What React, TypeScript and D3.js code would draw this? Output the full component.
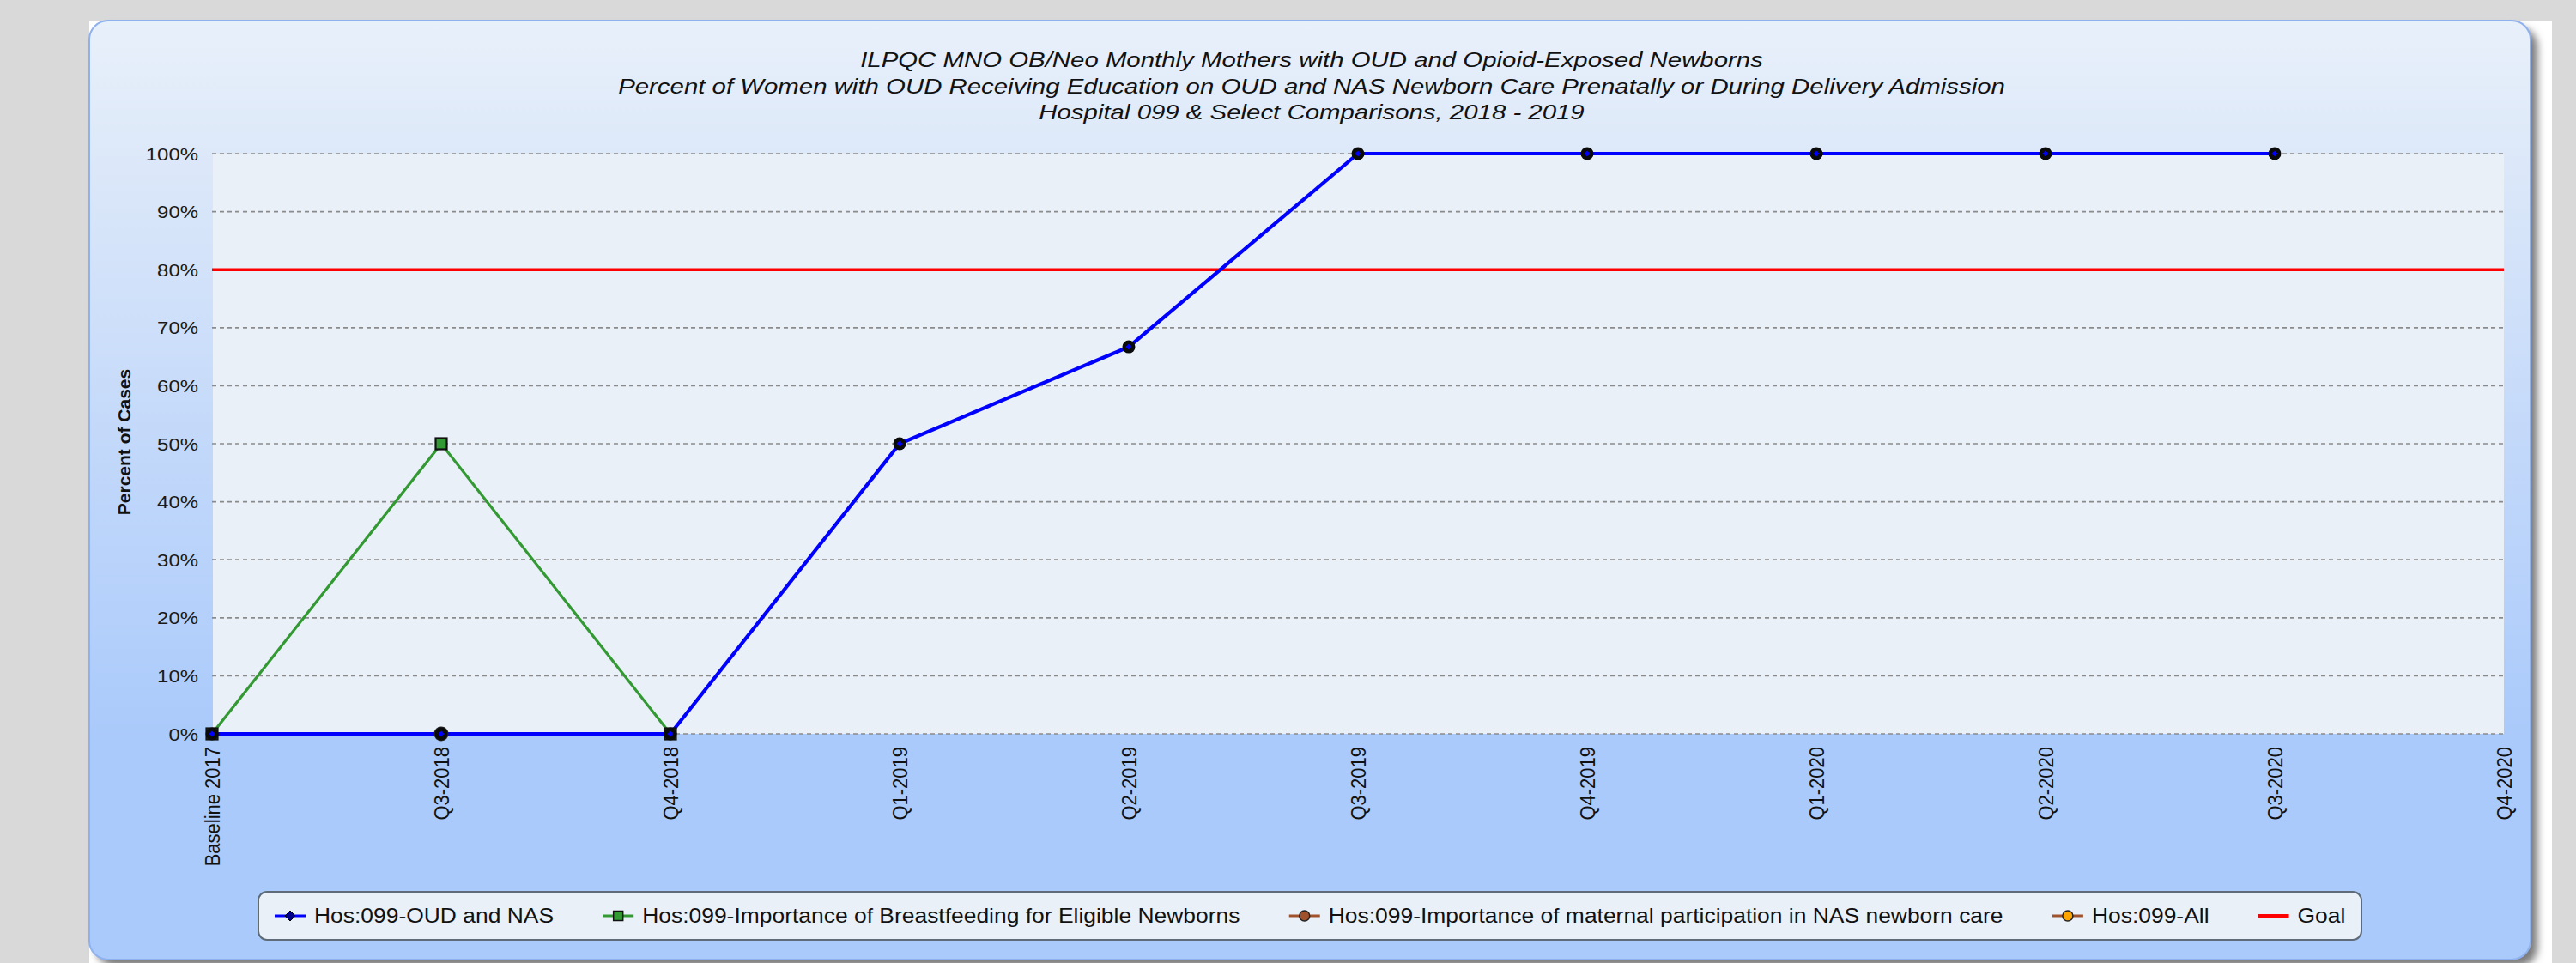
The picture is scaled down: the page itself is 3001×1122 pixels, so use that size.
import React from "react";
import * as d3 from "d3";

const categories = [
  "Baseline 2017", "Q3-2018", "Q4-2018", "Q1-2019", "Q2-2019", "Q3-2019",
  "Q4-2019", "Q1-2020", "Q2-2020", "Q3-2020", "Q4-2020",
];
const oudNas: (number | null)[] = [0, 0, 0, 50, 66.7, 100, 100, 100, 100, 100, null];
const breastfeeding: (number | null)[] = [0, 50, 0, null, null, null, null, null, null, null, null];
const maternal: (number | null)[] = [null, 0, null, null, null, null, null, null, null, null, null];
const allCare: (number | null)[] = [null, 0, null, null, null, null, null, null, null, null, null];
const goalValue = 80;
const yTicks = [0, 10, 20, 30, 40, 50, 60, 70, 80, 90, 100];
const titleLines = [
  "ILPQC MNO OB/Neo Monthly Mothers with OUD and Opioid-Exposed Newborns",
  "Percent of Women with OUD Receiving Education on OUD and NAS Newborn Care Prenatally or During Delivery Admission",
  "Hospital 099 & Select Comparisons, 2018 - 2019",
];
const legendLabels = [
  "Hos:099-OUD and NAS",
  "Hos:099-Importance of Breastfeeding for Eligible Newborns",
  "Hos:099-Importance of maternal participation in NAS newborn care",
  "Hos:099-All",
  "Goal",
];

const FONT = '"Liberation Sans", Arial, sans-serif';
const W = 3001;
const H = 1122;

function SText(props: any) {
  const { x, y, sx = 1, rot = 0, children, ...rest } = props;
  const t = `translate(${x},${y}) scale(${sx},1)` + (rot ? ` rotate(${rot})` : "");
  return (
    <text transform={t} fontFamily={FONT} {...rest}>
      {children}
    </text>
  );
}

function measure(text: string, font: string) {
  const c = document.createElement("canvas");
  const ctx = c.getContext("2d")!;
  ctx.font = font;
  return ctx.measureText(text).width;
}

function diamond(cx: number, cy: number, r: number) {
  return `M${cx},${cy - r}L${cx + r},${cy}L${cx},${cy + r}L${cx - r},${cy}Z`;
}

export default function App() {
  const x = d3.scalePoint<string>().domain(categories).range([247, 2917]);
  const y = d3.scaleLinear().domain([0, 100]).range([855, 179]);

  const line = d3
    .line<number | null>()
    .defined((d) => d != null)
    .x((_, i) => x(categories[i])!)
    .y((d) => y(d as number));

  const pts = (arr: (number | null)[]) =>
    arr
      .map((v, i) => ({ v, c: categories[i] }))
      .filter((d) => d.v != null) as { v: number; c: string }[];

  // legend layout
  const legFs = 23.5;
  const legSx = 1.125;
  const legFont = `${legFs}px "Liberation Sans", Arial, sans-serif`;
  let cursor = 320;
  const legendItems = legendLabels.map((lab) => {
    const sx0 = cursor;
    const tx = sx0 + 46;
    const w = measure(lab, legFont) * legSx;
    cursor = tx + w + 57;
    return { lab, sx0, tx };
  });
  const legY = 1067;

  const [x0, x1] = x.range();

  return (
    <div style={{ position: "absolute", left: 0, top: 0 }}>
      <svg width={W} height={H} style={{ display: "block" }}>
        <defs>
          <linearGradient id="frameGrad" gradientUnits="userSpaceOnUse" x1="0" y1="24" x2="0" y2="860">
            <stop offset="0" stopColor="#e8f0fa" />
            <stop offset="0.2" stopColor="#dce8f9" />
            <stop offset="0.6" stopColor="#c2d8fa" />
            <stop offset="1" stopColor="#aacafb" />
          </linearGradient>
          <filter id="blur" x="-5%" y="-5%" width="110%" height="110%">
            <feGaussianBlur stdDeviation="5" />
          </filter>
        </defs>
        <rect width={W} height={H} fill="#d9d9d9" />
        <rect x={104} y={24} width={2869} height={1100} fill="#ffffff" />
        <rect x={112} y={32} width={2844} height={1094} rx={22} fill="#7a7a7a" filter="url(#blur)" />
        <rect x={104} y={24} width={2844} height={1094} rx={22} fill="url(#frameGrad)" stroke="#8fb1ee" strokeWidth={2} />

        {/* title */}
        {titleLines.map((t, i) => (
          <SText key={i} x={1528} y={78 + i * 30.5} sx={1.2} fontSize={24.5} fontStyle="italic" textAnchor="middle" fill="#111">
            {t}
          </SText>
        ))}

        {/* plot background */}
        <rect x={x0 + 1} y={y(100)} width={x1 - x0 - 1} height={y(0) - y(100)} fill="#e9f0f8" />

        {/* gridlines */}
        {yTicks.map((t) => (
          <line key={t} x1={x0} x2={x1} y1={y(t)} y2={y(t)} stroke="#8a8a8a" strokeWidth={1.7} strokeDasharray="5 4" />
        ))}

        {/* y tick labels */}
        {yTicks.map((t) => (
          <SText key={t} x={231} y={y(t)} sx={1.14} fontSize={21} textAnchor="end" dy="0.36em" fill="#1a1a1a">
            {`${t}%`}
          </SText>
        ))}

        {/* y axis title */}
        <SText x={152} y={515} rot={-90} fontSize={21} fontWeight="bold" textAnchor="middle" fill="#111">
          Percent of Cases
        </SText>

        {/* x labels */}
        {categories.map((c) => (
          <SText key={c} x={x(c)} y={870} sx={1.12} rot={-90} fontSize={22} textAnchor="end" dy="0.35em" fill="#111">
            {c}
          </SText>
        ))}

        {/* goal line */}
        <line x1={x0} x2={x1} y1={y(goalValue)} y2={y(goalValue)} stroke="#ff0000" strokeWidth={3.5} />

        {/* green series */}
        <path d={line(breastfeeding) || ""} fill="none" stroke="#339933" strokeWidth={3.2} />
        {/* blue series */}
        <path d={line(oudNas) || ""} fill="none" stroke="#0000ff" strokeWidth={4.2} />

        {/* markers */}
        {pts(breastfeeding).map((d, i) => (
          <rect key={"g" + i} x={x(d.c)! - 6.5} y={y(d.v) - 6.5} width={13} height={13} fill="#339933" stroke="#111" strokeWidth={2.2} />
        ))}
        {pts(maternal).map((d, i) => (
          <circle key={"m" + i} cx={x(d.c)!} cy={y(d.v)} r={7.5} fill="#a0522d" stroke="#222" strokeWidth={2} />
        ))}
        {pts(allCare).map((d, i) => (
          <circle key={"a" + i} cx={x(d.c)!} cy={y(d.v)} r={6} fill="#ffa500" stroke="#5a2d0c" strokeWidth={2} />
        ))}
        {pts(oudNas).map((d, i) => (
          <g key={"b" + i}>
            <circle cx={x(d.c)!} cy={y(d.v)} r={7.5} fill="#0a0a0a" />
            <path d={diamond(x(d.c)!, y(d.v), 3.5)} fill="#0000ff" />
          </g>
        ))}

        {/* legend */}
        <rect x={301} y={1039} width={2450} height={56} rx={10} fill="#e9f0f8" stroke="#5f6b78" strokeWidth={2} />
        {legendItems.map((it, i) => {
          const cx = it.sx0 + 18;
          let sym: any = null;
          if (i === 0)
            sym = (
              <g>
                <line x1={it.sx0} x2={it.sx0 + 36} y1={legY} y2={legY} stroke="#0000ff" strokeWidth={3} />
                <path d={diamond(cx, legY, 6)} fill="#00008b" stroke="#000" strokeWidth={1} />
              </g>
            );
          else if (i === 1)
            sym = (
              <g>
                <line x1={it.sx0} x2={it.sx0 + 36} y1={legY} y2={legY} stroke="#339933" strokeWidth={3} />
                <rect x={cx - 5.5} y={legY - 5.5} width={11} height={11} fill="#339933" stroke="#111" strokeWidth={1.5} />
              </g>
            );
          else if (i === 2)
            sym = (
              <g>
                <line x1={it.sx0} x2={it.sx0 + 36} y1={legY} y2={legY} stroke="#a0522d" strokeWidth={3} />
                <circle cx={cx} cy={legY} r={6} fill="#a0522d" stroke="#222" strokeWidth={1.5} />
              </g>
            );
          else if (i === 3)
            sym = (
              <g>
                <line x1={it.sx0} x2={it.sx0 + 36} y1={legY} y2={legY} stroke="#a0522d" strokeWidth={3} />
                <circle cx={cx} cy={legY} r={6} fill="#ffa500" stroke="#222" strokeWidth={1.5} />
              </g>
            );
          else
            sym = <line x1={it.sx0} x2={it.sx0 + 36} y1={legY} y2={legY} stroke="#ff0000" strokeWidth={4} />;
          return (
            <g key={it.lab}>
              {sym}
              <SText x={it.tx} y={legY} sx={legSx} fontSize={legFs} dy="0.35em" fill="#111">
                {it.lab}
              </SText>
            </g>
          );
        })}
      </svg>
    </div>
  );
}
